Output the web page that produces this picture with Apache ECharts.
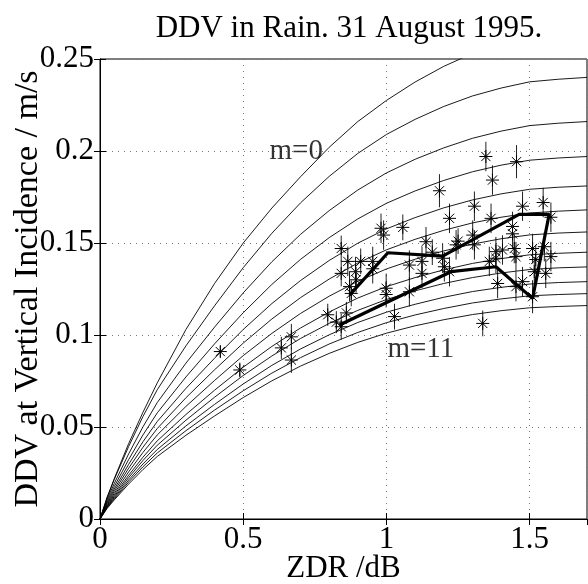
<!DOCTYPE html>
<html><head><meta charset="utf-8">
<script src="https://cdn.jsdelivr.net/npm/echarts@6/dist/echarts.min.js"></script>
<style>html,body{margin:0;padding:0;background:#fff}#c{width:588px;height:584px}</style>
</head><body><div id="c"></div>
<script>
// ZDR sample points of the model curves
const curveZdr = [0, 0.025, 0.05, 0.1, 0.15, 0.2, 0.3, 0.4, 0.5, 0.6, 0.7, 0.8, 0.9, 1.0, 1.1, 1.2, 1.3, 1.4, 1.5, 1.6, 1.7];
// model curves, m = 0 .. 11
const curveM0  = [0, .0115, .0220, .0410, .0580, .0740, .1030, .1280, .1500, .1690, .1860, .2020, .2160, .2275, .2375, .2460, .2530, .2600, .2660, .2710, .2750];
const curveM1  = [0, .0120, .0216, .0394, .0557, .0703, .0941, .1159, .1366, .1553, .1718, .1862, .1987, .2090, .2172, .2242, .2299, .2342, .2376, .2390, .2400];
const curveM2  = [0, .0108, .0194, .0354, .0501, .0633, .0847, .1043, .1229, .1398, .1547, .1676, .1788, .1881, .1955, .2017, .2069, .2108, .2138, .2151, .2160];
const curveM3  = [0, .0099, .0177, .0323, .0457, .0577, .0772, .0952, .1121, .1275, .1411, .1529, .1631, .1716, .1783, .1840, .1887, .1923, .1950, .1962, .1970];
const curveM4  = [0, .0091, .0163, .0297, .0420, .0530, .0710, .0874, .1030, .1171, .1296, .1405, .1499, .1577, .1638, .1691, .1734, .1767, .1792, .1803, .1810];
const curveM5  = [0, .0084, .0151, .0276, .0390, .0492, .0659, .0811, .0956, .1087, .1203, .1304, .1391, .1463, .1520, .1569, .1609, .1640, .1663, .1673, .1680];
const curveM6  = [0, .0078, .0140, .0256, .0362, .0457, .0612, .0753, .0888, .1009, .1117, .1211, .1292, .1359, .1412, .1457, .1494, .1523, .1544, .1554, .1560];
const curveM7  = [0, .0073, .0131, .0238, .0336, .0425, .0568, .0700, .0825, .0938, .1038, .1125, .1201, .1263, .1312, .1354, .1389, .1415, .1436, .1444, .1450];
const curveM8  = [0, .0069, .0123, .0225, .0318, .0401, .0537, .0662, .0780, .0886, .0981, .1063, .1134, .1193, .1240, .1280, .1312, .1337, .1356, .1365, .1370];
const curveM9  = [0, .0065, .0116, .0212, .0299, .0378, .0506, .0623, .0734, .0835, .0924, .1001, .1068, .1124, .1167, .1205, .1236, .1259, .1277, .1285, .1290];
const curveM10 = [0, .0061, .0110, .0201, .0284, .0359, .0480, .0592, .0697, .0793, .0877, .0951, .1014, .1067, .1109, .1144, .1174, .1196, .1213, .1220, .1225];
const curveM11 = [0, .0058, .0104, .0190, .0269, .0340, .0455, .0560, .0660, .0751, .0831, .0900, .0960, .1010, .1050, .1083, .1111, .1132, .1148, .1155, .1160];

// measured points (asterisks) with vertical error bars
const zdrPts = [0.842,0.865,0.842,0.892,0.894,0.871,0.877,0.860,0.795,0.825,0.842,0.633,0.668,0.668,0.488,0.420,
  0.952,0.952,0.981,0.990,1.057,0.999,0.999,1.080,1.080,1.028,1.138,1.124,1.124,1.185,1.220,1.196,1.202,1.243,
  1.307,1.307,1.365,1.347,1.370,1.454,1.475,1.547,1.574,1.440,1.440,1.446,1.452,1.382,1.382,1.405,1.359,1.388,
  1.452,1.475,1.510,1.510,1.521,1.516,1.556,1.574,1.551,1.336,1.220,1.301,1.160,1.250,0.910];
const ddvPts = [0.1470,0.1400,0.1335,0.1344,0.1300,0.1263,0.1226,0.1120,0.1110,0.1070,0.1045,0.0930,0.0990,0.0864,0.0810,0.0910,
  0.1400,0.1360,0.1580,0.1543,0.1585,0.1254,0.1220,0.1235,0.1380,0.1100,0.1507,0.1400,0.1335,0.1784,0.1634,0.1417,0.1371,0.1490,
  0.1700,0.1490,0.1634,0.1970,0.1842,0.1942,0.1700,0.1720,0.1640,0.1590,0.1550,0.1470,0.1426,0.1453,0.1417,0.1462,0.1400,0.1280,
  0.1263,0.1290,0.1208,0.1470,0.1410,0.1344,0.1335,0.1426,0.1480,0.1063,0.1344,0.1543,0.1450,0.1510,0.1400];
const errPts = [0.007,0.008,0.007,0.008,0.007,0.008,0.007,0.006,0.006,0.006,0.007,0.006,0.007,0.007,0.004,0.003,
  0.008,0.008,0.008,0.008,0.007,0.008,0.007,0.008,0.008,0.007,0.008,0.008,0.008,0.009,0.008,0.008,0.008,0.008,
  0.008,0.008,0.008,0.008,0.008,0.009,0.008,0.008,0.008,0.008,0.008,0.008,0.008,0.008,0.008,0.008,0.008,0.008,
  0.008,0.008,0.009,0.008,0.008,0.008,0.008,0.008,0.008,0.007,0.008,0.008,0.007,0.007,0.007];

// thick trace
const pathZdr = [0.871, 1.005, 1.196, 1.463, 1.568, 1.510, 1.382, 1.225, 0.836];
const pathDdv = [0.1217, 0.1447, 0.1429, 0.1656, 0.1656, 0.1199, 0.1371, 0.1344, 0.1054];

// curve annotations
const labelText = ['m=0', 'm=11'];
const labelZdr = [0.685, 1.12];
const labelDdv = [0.200, 0.092];

const FONT = 'Liberation Serif';
const curves = [curveM0,curveM1,curveM2,curveM3,curveM4,curveM5,curveM6,curveM7,curveM8,curveM9,curveM10,curveM11];

const series = curves.map((c, i) => ({
  type: 'line', name: 'm=' + i, showSymbol: false, silent: true,
  data: curveZdr.map((x, j) => [x, c[j]]),
  lineStyle: { color: '#000', width: 0.9 }
}));

series.push({
  type: 'custom', name: 'obs',
  data: zdrPts.map((x, i) => [x, ddvPts[i], errPts[i]]),
  encode: { x: 0, y: 1 },
  renderItem(params, api) {
    const x = api.value(0), y = api.value(1), e = api.value(2);
    const c = api.coord([x, y]), lo = api.coord([x, y - e]), hi = api.coord([x, y + e]);
    const r = 6.5, d = 4.6;
    const st = { stroke: '#000', lineWidth: 1 };
    return { type: 'group', children: [
      { type: 'line', shape: { x1: c[0], y1: hi[1], x2: c[0], y2: lo[1] }, style: { stroke: '#222', lineWidth: 1 } },
      { type: 'line', shape: { x1: c[0] - r, y1: c[1], x2: c[0] + r, y2: c[1] }, style: st },
      { type: 'line', shape: { x1: c[0], y1: c[1] - r, x2: c[0], y2: c[1] + r }, style: st },
      { type: 'line', shape: { x1: c[0] - d, y1: c[1] - d, x2: c[0] + d, y2: c[1] + d }, style: st },
      { type: 'line', shape: { x1: c[0] - d, y1: c[1] + d, x2: c[0] + d, y2: c[1] - d }, style: st }
    ]};
  }
});

series.push({
  type: 'line', name: 'trace', showSymbol: false, silent: true,
  data: pathZdr.map((x, i) => [x, pathDdv[i]]),
  lineStyle: { color: '#000', width: 3.2 }
});

series.push({
  type: 'scatter', name: 'labels', symbolSize: 0, silent: true,
  data: labelZdr.map((x, i) => ({ value: [x, labelDdv[i]], name: labelText[i] })),
  label: { show: true, position: 'inside', formatter: p => p.name,
    fontFamily: FONT, fontSize: 29, color: '#000' }
});

const tickFont = { color: '#000', fontFamily: FONT, fontSize: 31 };
const chart = echarts.init(document.getElementById('c'), null, { renderer: 'canvas' });
chart.setOption({
  animation: false,
  backgroundColor: '#fff',
  title: { text: 'DDV in Rain. 31 August 1995.', left: 344, textAlign: 'center', top: 8,
    textStyle: { fontFamily: FONT, fontSize: 31, fontWeight: 'normal', color: '#000' } },
  grid: { left: 100, right: 1, top: 59, bottom: 65, containLabel: false, outerBoundsMode: 'none',
    show: true, borderColor: '#000', borderWidth: 1, backgroundColor: 'transparent' },
  xAxis: [{
    type: 'value', min: 0, max: 1.7, interval: 0.5, position: 'bottom',
    axisLine: { show: true, lineStyle: { color: '#000' } },
    axisTick: { show: true, inside: true, length: 6, lineStyle: { color: '#000' } },
    axisLabel: Object.assign({ showMaxLabel: false, margin: 5 }, tickFont),
    splitLine: { show: true, lineStyle: { type: [1, 5], color: '#777' } },
    name: 'ZDR /dB', nameLocation: 'middle', nameGap: 34, nameMoveOverlap: false,
    nameTextStyle: { fontFamily: FONT, fontSize: 31, color: '#000' }
  }, {
    type: 'value', min: 0, max: 1.7, interval: 0.5, position: 'top',
    axisLine: { show: true, lineStyle: { color: '#000' } },
    axisTick: { show: true, inside: true, length: 6, lineStyle: { color: '#000' } },
    axisLabel: { show: false }, splitLine: { show: false }
  }],
  yAxis: [{
    type: 'value', min: 0, max: 0.25, interval: 0.05, position: 'left',
    axisLine: { show: true, lineStyle: { color: '#000' } },
    axisTick: { show: true, inside: true, length: 6, lineStyle: { color: '#000' } },
    axisLabel: Object.assign({ margin: 6 }, tickFont),
    splitLine: { show: true, lineStyle: { type: [1, 5], color: '#777' } },
    name: 'DDV at Vertical Incidence / m/s', nameLocation: 'middle', nameGap: 55, nameMoveOverlap: false,
    nameTextStyle: { fontFamily: FONT, fontSize: 34, color: '#000' }
  }, {
    type: 'value', min: 0, max: 0.25, interval: 0.05, position: 'right',
    axisLine: { show: true, lineStyle: { color: '#000' } },
    axisTick: { show: true, inside: true, length: 6, lineStyle: { color: '#000' } },
    axisLabel: { show: false }, splitLine: { show: false }
  }],
  series: series
});
</script></body></html>
